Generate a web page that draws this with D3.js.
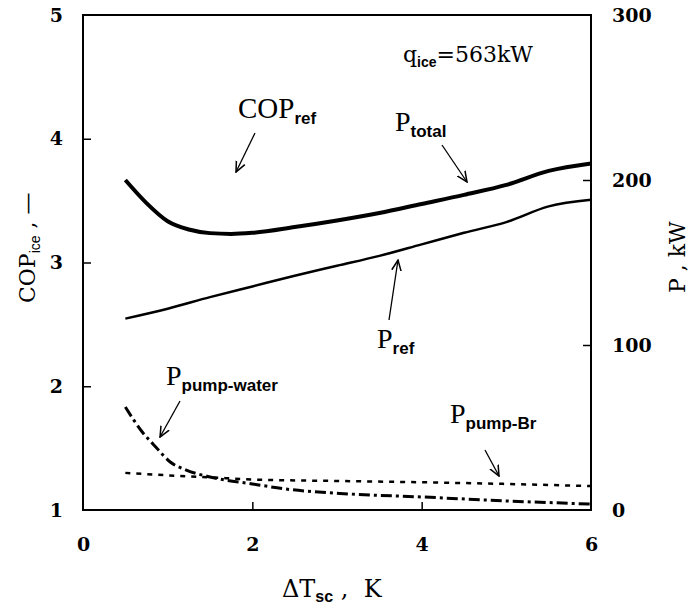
<!DOCTYPE html>
<html>
<head>
<meta charset="utf-8">
<script src="https://cdn.jsdelivr.net/npm/d3@7"></script>
<style>
  body { margin:0; background:#fff; }
  svg { display:block; }
  .tick text { font-family:"DejaVu Serif", serif; font-weight:bold; font-size:19px; fill:#000; }
  .ann { font-family:"Liberation Serif", serif; fill:#000; }
</style>
</head>
<body>
<svg id="chart" width="690" height="608"></svg>
<script>
// ==================== DATA ====================
const xTicks = [0, 2, 4, 6];
const copTicks = [1, 2, 3, 4, 5];
const pTicks = [0, 100, 200, 300];

// Delta T_sc, K
const dT_total = [0.5, 0.75, 1.0, 1.25, 1.5, 1.75, 2.0, 2.5, 3.0, 3.5, 4.0, 4.5, 5.0, 5.5, 6.0];
const P_total  = [200, 186, 175, 170, 167.8, 167.3, 168, 171.5, 175.5, 180, 185.5, 191, 197, 205.5, 210];

const dT_ref = [0.5, 1.0, 1.5, 2.0, 2.5, 3.0, 3.5, 4.0, 4.5, 5.0, 5.5, 6.0];
const P_ref  = [116, 122, 129, 135.5, 142, 148, 154, 161, 168, 174.5, 184, 188];

const dT_water     = [0.5, 0.7, 0.87, 1.03, 1.22, 1.5, 2.0, 2.4, 3.15, 4.0, 5.0, 6.0];
const P_pumpWater  = [62.4, 47.3, 37.6, 29.1, 24.2, 20, 15.8, 12.7, 9.7, 7.9, 5.5, 3.6];

const dT_br    = [0.5, 1.0, 1.5, 2.0, 3.0, 4.0, 5.0, 6.0];
const P_pumpBr = [22.5, 21, 19.8, 18.5, 17.6, 16.8, 15.8, 14.5];

// ==================== SCALES ====================
const L = 83, R = 591, T = 15, B = 510;
const svg = d3.select("#chart");
const x  = d3.scaleLinear().domain([0, 6]).range([L, R]);
const yL = d3.scaleLinear().domain([1, 5]).range([B, T]);
const yR = d3.scaleLinear().domain([0, 300]).range([B, T]);

// ==================== AXES ====================
const gx = svg.append("g").attr("transform", `translate(0,${B})`)
    .call(d3.axisBottom(x).tickValues(xTicks).tickFormat(d3.format("d")).tickSizeInner(-8).tickSizeOuter(0).tickPadding(28));
const gl = svg.append("g").attr("transform", `translate(${L},0)`)
    .call(d3.axisLeft(yL).tickValues(copTicks).tickFormat(d3.format("d")).tickSizeInner(-8).tickSizeOuter(0).tickPadding(20));
const gr = svg.append("g").attr("transform", `translate(${R},0)`)
    .call(d3.axisRight(yR).tickValues(pTicks).tickSizeInner(-8).tickSizeOuter(0).tickPadding(21));
[gx, gl, gr].forEach(g => {
    g.select(".domain").remove();
    g.selectAll(".tick line").attr("stroke", "#000").attr("stroke-width", 1.5);
});
// no inner tick marks at the corners
gx.selectAll(".tick").filter(d => d === 0 || d === 6).select("line").remove();
gl.selectAll(".tick").filter(d => d === 1 || d === 5).select("line").remove();
gr.selectAll(".tick").filter(d => d === 0 || d === 300).select("line").remove();

// frame
svg.append("rect").attr("x", L).attr("y", T).attr("width", R - L).attr("height", B - T)
    .attr("fill", "none").attr("stroke", "#000").attr("stroke-width", 2);

// ==================== LINES ====================
function drawLine(xs, ys, width, dash){
    const line = d3.line().x((d,i)=>x(xs[i])).y(d=>yR(d)).curve(d3.curveMonotoneX);
    svg.append("path").datum(ys)
        .attr("fill", "none").attr("stroke", "#000")
        .attr("stroke-width", width)
        .attr("stroke-dasharray", dash)
        .attr("d", line);
}
drawLine(dT_total, P_total, 4, null);
drawLine(dT_ref, P_ref, 2.5, null);
drawLine(dT_water, P_pumpWater, 3, "11,4,3,4");
drawLine(dT_br, P_pumpBr, 2.5, "5,6");

// ==================== ANNOTATIONS ====================
svg.append("defs").append("marker")
    .attr("id", "arr").attr("viewBox", "0 0 10 10").attr("refX", 9).attr("refY", 5)
    .attr("markerWidth", 9).attr("markerHeight", 9).attr("orient", "auto")
    .append("path").attr("d", "M0,1 L9,5 L0,9").attr("fill", "none").attr("stroke", "#000").attr("stroke-width", 1.3);

function arrow(x1, y1, x2, y2){
    svg.append("line").attr("x1", x1).attr("y1", y1).attr("x2", x2).attr("y2", y2)
        .attr("stroke", "#000").attr("stroke-width", 1.3).attr("marker-end", "url(#arr)");
}
function label(px, py, main, sub, size, subSize){
    const t = svg.append("text").attr("class", "ann").attr("x", px).attr("y", py).style("font-size", size + "px");
    t.append("tspan").text(main);
    t.append("tspan").attr("dy", 6).style("font-size", subSize + "px")
        .style("font-family", "'Liberation Sans Narrow','Liberation Sans',sans-serif")
        .style("font-weight", "bold").text(sub);
    return t;
}

// q_ice = 563kW
const q = svg.append("text").attr("x", 403).attr("y", 62)
    .style("font-family", "'DejaVu Serif', serif").style("font-size", "22px");
q.append("tspan").text("q");
q.append("tspan").attr("dy", 5).style("font-size", "14px")
    .style("font-family", "'Liberation Sans Narrow','Liberation Sans',sans-serif").style("font-weight", "bold").text("ice");
q.append("tspan").attr("dy", -5).text("=563kW");

label(238, 118, "COP", "ref", 29, 17);
arrow(255, 133, 236, 172);

label(395, 131, "P", "total", 28, 17);
arrow(442, 145, 467, 182);

label(377, 348, "P", "ref", 28, 17);
arrow(389, 320, 398, 260);

label(166, 385, "P", "pump-water", 28, 17);
arrow(180, 401, 160, 437);

label(450, 423, "P", "pump-Br", 28, 17);
arrow(485, 450, 499, 476);

// axis titles
const xt = svg.append("text").attr("x", 282).attr("y", 597)
    .style("font-family", "'DejaVu Serif', serif").style("font-size", "24px");
xt.append("tspan").text("\u0394T");
xt.append("tspan").attr("dy", 5).style("font-size", "16px")
    .style("font-family", "'Liberation Sans Narrow','Liberation Sans',sans-serif").style("font-weight", "bold").text("sc");
xt.append("tspan").attr("dy", -5).text(" ,  K");
xt.selectAll("tspan").attr("xml:space", "preserve");

const yt = svg.append("text").attr("transform", "translate(35,303) rotate(-90)")
    .style("font-family", "'DejaVu Serif', serif").style("font-size", "22px");
yt.append("tspan").text("COP");
yt.append("tspan").attr("dy", 5).style("font-size", "14px")
    .style("font-family", "'Liberation Sans Narrow','Liberation Sans',sans-serif").text("ice");
yt.append("tspan").attr("dy", -5).text(" ,  \u2014");

svg.append("text").attr("transform", "translate(685,293) rotate(-90)")
    .style("font-family", "'DejaVu Serif', serif").style("font-size", "22px")
    .text("P , kW");
</script>
</body>
</html>
